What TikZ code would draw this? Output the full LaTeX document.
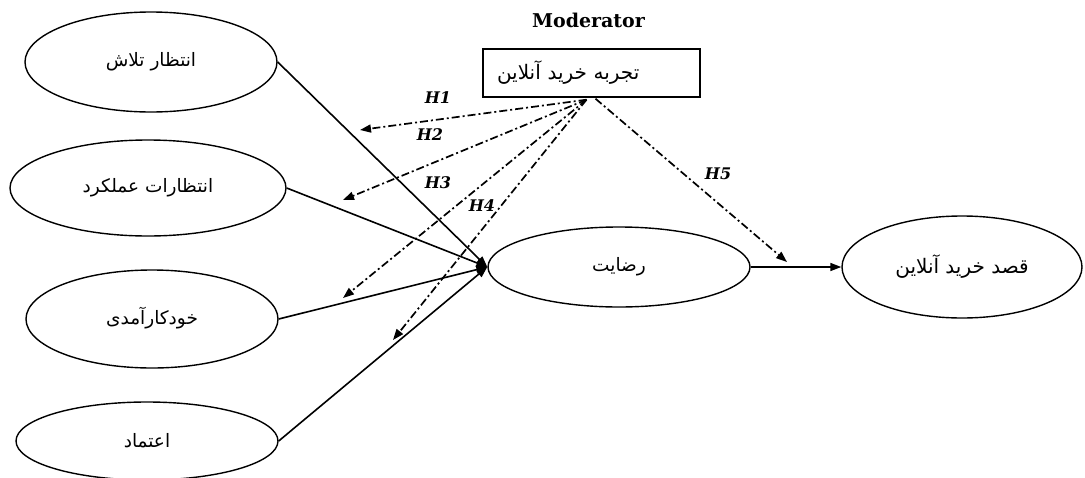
\documentclass[tikz,border=0pt]{standalone}
\usepackage{fontspec}
\usetikzlibrary{shapes.geometric, arrows.meta, positioning, calc}
\TeXXeTstate=1
\newfontfamily\fafont[Script=Arabic]{DejaVu Sans}
\newfontfamily\hfont{DejaVu Serif}

\begin{document}
\begin{tikzpicture}[x=1pt, y=-1pt,
    construct/.style={draw, ellipse, line width=1.4pt, inner sep=0pt, font=\fafont\fontsize{18.5}{22}\selectfont},
    modbox/.style={draw, rectangle, line width=1.4pt, inner xsep=14pt, text width=189pt, minimum height=48pt, align=left, font=\fafont\fontsize{20}{22}\selectfont},
    direct/.style={-{Triangle[length=11pt,width=8pt]}, line width=1.6pt},
    moder/.style={-{Triangle[length=11pt,width=8pt]}, line width=1.7pt, dash pattern=on 8pt off 3pt on 2pt off 3pt},
    hyp/.style={font=\hfont\bfseries\itshape\fontsize{16}{18}\selectfont}]
    \useasboundingbox (0,0) rectangle (1085,477);
    % Constructs
    \node[construct, minimum width=252pt, minimum height=100pt] (effort) at (151, 62) {\beginR انتظار تلاش\endR};
    \node[construct, minimum width=276pt, minimum height=96pt] (perf) at (148, 188) {\beginR انتظارات عملکرد\endR};
    \node[construct, minimum width=252pt, minimum height=98pt] (selfeff) at (152, 319) {\raisebox{7pt}{\beginR خودکارآمدی\endR}};
    \node[construct, minimum width=262pt, minimum height=78pt] (trust) at (147, 441) {\beginR اعتماد\endR};
    \node[construct, minimum width=262pt, minimum height=80pt] (satisf) at (619, 267) {\beginR رضایت\endR};
    \node[construct, minimum width=240pt, minimum height=102pt, font=\fafont\fontsize{20}{22}\selectfont] (intent) at (962, 267) {\beginR قصد خرید آنلاین\endR};
    % Moderator
    \node[modbox] (exper) at (591.5, 73) {\beginR تجربه خرید آنلاین\endR};
    \node[font=\hfont\bfseries\fontsize{19}{22}\selectfont, anchor=base] (modlbl) at (588.5, 27) {Moderator};
    % Direct paths
    \foreach \c in {effort,perf,selfeff,trust}
      \draw[direct] (\c.east) -- (satisf.west);
    \draw[direct] (satisf.east) -- (intent.west);
    % Moderating paths
    \coordinate (h1tip) at (360, 130);
    \coordinate (h2tip) at (343, 200);
    \coordinate (h3tip) at (343, 298);
    \coordinate (h4tip) at (393, 340);
    \coordinate (h5tip) at (787, 262);
    \foreach \h in {h1tip,h2tip,h3tip,h4tip}
      \draw[moder] ($(exper.south)+(-5,2)$) -- (\h);
    \draw[moder] ($(exper.south)+(4,1)$) -- (h5tip);
    % Labels
    \node[hyp] (h1) at (438, 98) {H1};
    \node[hyp] (h2) at (430, 135) {H2};
    \node[hyp] (h3) at (438, 183) {H3};
    \node[hyp] (h4) at (482, 206) {H4};
    \node[hyp] (h5) at (718, 174) {H5};
\end{tikzpicture}
\end{document}
